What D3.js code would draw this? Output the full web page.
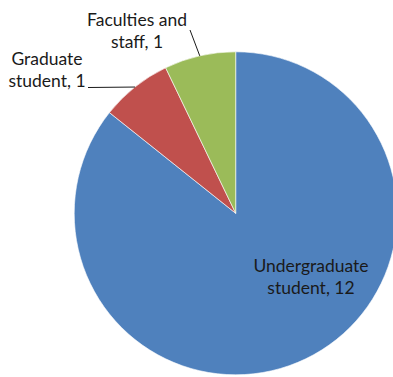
<!DOCTYPE html>
<html>
<head>
<meta charset="utf-8">
<script src="https://cdn.jsdelivr.net/npm/d3@7"></script>
<style>
  html, body { margin: 0; padding: 0; background: #fff; overflow: hidden; }
  svg { display: block; }
  text { font-family: Lato, "Open Sans", sans-serif; font-size: 17.5px; fill: #1a1a1a; }
</style>
</head>
<body>
<svg id="chart" width="393" height="377"></svg>
<script>
// Respondent groups and their counts
const categories = ["Undergraduate student", "Graduate student", "Faculties and staff"];
const values = [12, 1, 1];
const colors = ["#4F81BD", "#C0504D", "#9BBB59"];

const svg = d3.select("#chart");
const cx = 235.7, cy = 213.3, r = 161.5;

const pie = d3.pie().sort(null).value(d => d.value);
const data = pie(categories.map((c, i) => ({ name: c, value: values[i], color: colors[i] })));
const arc = d3.arc().innerRadius(0).outerRadius(r);

const g = svg.append("g").attr("transform", `translate(${cx},${cy})`);

g.selectAll("path.slice")
  .data(data)
  .enter().append("path")
  .attr("class", "slice")
  .attr("d", arc)
  .attr("fill", d => d.data.color)
  .attr("stroke", "#fff")
  .attr("stroke-width", 0.6);

// point on the rim at the middle of a slice
function rimPoint(d) {
  const a = (d.startAngle + d.endAngle) / 2;
  return [r * Math.sin(a), -r * Math.cos(a)];
}

// Label layout for each slice: text lines, anchor position, leader line start
const labelSpec = [
  { lines: ["Undergraduate", "student, 12"], x: 311, y: 272, lead: null },
  { lines: ["Graduate", "student, 1"], x: 47, y: 65, lead: [88, 87.5] },
  { lines: ["Faculties and", "staff, 1"], x: 137, y: 26, lead: [190, 30] }
];

data.forEach((d, i) => {
  const s = labelSpec[i];
  const t = svg.append("text")
    .attr("text-anchor", "middle")
    .attr("x", s.x).attr("y", s.y);
  s.lines.forEach((ln, k) => {
    t.append("tspan").attr("x", s.x).attr("dy", k === 0 ? 0 : 21.5).text(ln);
  });
  if (s.lead) {
    const p = rimPoint(d);
    svg.append("line")
      .attr("x1", s.lead[0]).attr("y1", s.lead[1])
      .attr("x2", cx + p[0]).attr("y2", cy + p[1])
      .attr("stroke", "#1a1a1a")
      .attr("stroke-width", 1);
  }
});
</script>
</body>
</html>
